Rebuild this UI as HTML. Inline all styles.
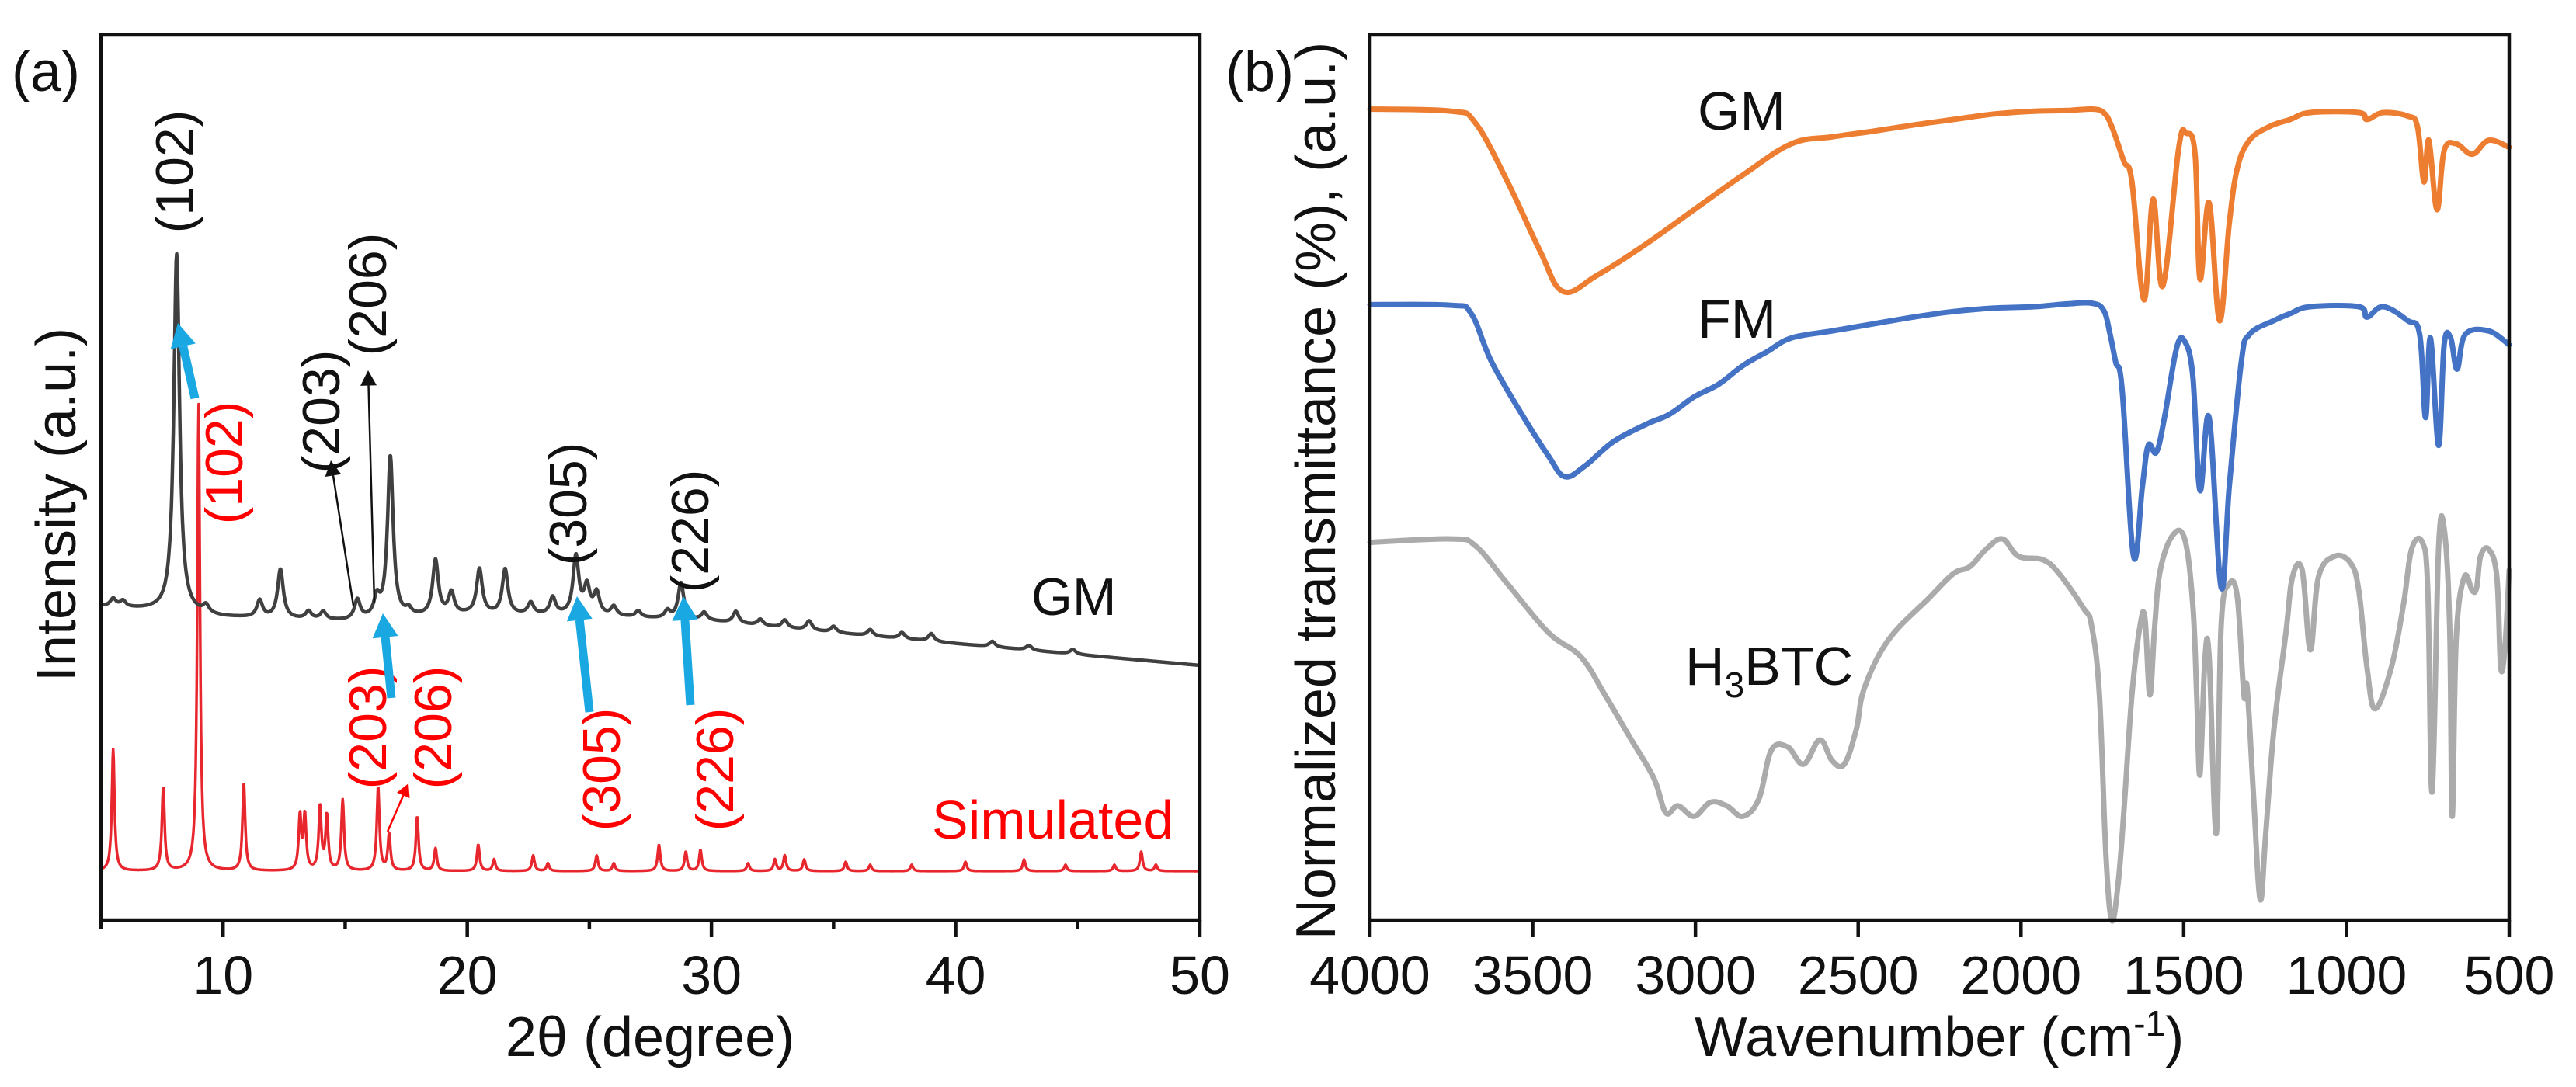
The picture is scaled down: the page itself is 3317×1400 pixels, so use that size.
<!DOCTYPE html>
<html><head><meta charset="utf-8"><style>
html,body{margin:0;padding:0;background:#fff;}
svg{display:block;font-family:"Liberation Sans",Arial,sans-serif;}
</style></head><body>
<svg id="fig" width="3317" height="1400" viewBox="0 0 3317 1400" xmlns="http://www.w3.org/2000/svg">
<g id="pa"></g>
<g id="pb"></g>
</svg>
<script>
// ---------- Panel (a) XRD data ----------
const xrdTicks = [10, 20, 30, 40, 50];
const xrdMinorTicks = [5, 15, 25, 35, 45];
const gmBaseX = [5, 7, 10, 15, 20, 25, 30, 35, 40, 45, 50];
const gmBaseV = [619, 614, 605, 600, 608, 607, 600, 585, 571, 557, 543];
const gmPeakPos = [5.5, 5.9, 8.1, 9.3, 11.5, 12.35, 13.5, 14.1, 15.5, 16.3, 16.85, 17.6, 18.7, 19.35, 20.5, 21.55, 22.6, 23.5, 24.45, 24.9, 25.3, 26.0, 27.0, 28.2, 28.75, 29.7, 31.0, 32.0, 33.0, 34.0, 35.0, 36.5, 37.8, 39.0, 41.5, 43.0, 44.8];
const gmPeakH = [10, 8, 462, 10, 22, 63, 10, 10, 25, 24, 208, 8, 71, 28, 58, 58, 15, 22, 75, 35, 28, 12, 8, 10, 47, 10, 15, 8, 10, 12, 8, 8, 8, 10, 7, 6, 6];
const simBase = 278;
const simPeakPos = [5.5, 7.55, 9.0, 10.85, 13.15, 13.35, 13.97, 14.25, 14.9, 16.35, 16.8, 17.95, 18.7, 20.45, 21.1, 22.7, 23.3, 25.3, 26.0, 27.85, 28.95, 29.55, 31.5, 32.6, 33.0, 33.8, 35.5, 36.5, 38.2, 40.4, 42.8, 44.5, 46.5, 47.6, 48.2];
const simPeakH = [157, 108, 601, 113, 70, 70, 82, 70, 91, 108, 47, 70, 29, 34, 15, 20, 10, 20, 10, 34, 25, 27, 10, 15, 20, 15, 12, 8, 8, 12, 15, 8, 8, 25, 8];

// ---------- Panel (b) FTIR data ----------
const irTicks = [4000, 3500, 3000, 2500, 2000, 1500, 1000, 500];
const gmIrW = [4000,3751,3676,3577,3477,3407,3303,3153,3004,2854,2705,2580,2456,2331,2207,2082,1958,1858,1783,1746,1721,1684,1659,1622,1594,1564,1515,1492,1465,1450,1422,1390,1360,1335,1298,1236,1173,1111,962,937,887,812,782,762,747,722,700,663,613,563,500];
const gmIrV = [1245,1242,1225,1140,1040,982,1005,1050,1100,1150,1195,1205,1213,1222,1230,1238,1242,1243,1245,1240,1220,1170,1140,970,1115,990,1190,1210,1180,1000,1110,940,1080,1160,1200,1220,1230,1240,1240,1230,1240,1235,1220,1140,1200,1100,1185,1195,1180,1200,1190];
const fmIrW = [4000,3751,3689,3626,3527,3452,3402,3340,3253,3153,3079,3004,2929,2854,2780,2705,2580,2456,2331,2207,2082,1958,1858,1783,1746,1726,1709,1689,1654,1627,1609,1584,1559,1522,1497,1472,1450,1422,1385,1360,1323,1298,1223,1173,1111,962,937,887,812,775,757,742,717,700,680,660,635,563,500];
const fmIrV = [963,962,950,880,800,745,715,730,765,790,805,830,848,875,895,915,925,935,945,953,958,960,964,965,955,920,880,840,600,700,760,750,800,900,910,860,695,800,555,700,880,920,940,950,960,960,945,960,940,920,800,915,760,905,915,870,920,925,905];
const btcIrW = [4000,3751,3676,3577,3452,3352,3278,3203,3128,3091,3054,3004,2954,2904,2854,2805,2767,2717,2668,2618,2580,2543,2506,2481,2406,2282,2207,2157,2107,2057,2008,1933,1883,1808,1783,1759,1739,1721,1701,1684,1659,1634,1619,1604,1589,1572,1534,1497,1472,1460,1450,1435,1422,1400,1385,1360,1335,1315,1305,1285,1265,1248,1223,1186,1166,1136,1111,1086,1036,987,962,937,912,862,825,800,767,750,737,717,700,683,675,663,638,613,600,588,563,538,526,513,500];
const btcIrV = [620,625,615,560,490,455,400,340,280,230,240,225,245,240,225,250,320,325,300,335,305,300,350,410,480,540,575,585,610,625,600,595,575,525,500,400,170,75,130,230,400,500,510,400,500,580,630,625,530,400,285,450,455,200,500,560,540,400,410,250,105,200,350,490,570,580,465,570,600,590,550,440,380,440,530,610,620,550,260,610,640,500,225,480,570,550,555,600,610,570,440,470,580];

const NS = 'http://www.w3.org/2000/svg';
function mk(parent, tag, attrs, text) {
  const el = document.createElementNS(NS, tag);
  for (const k in attrs) el.setAttribute(k, attrs[k]);
  if (text !== undefined) el.textContent = text;
  parent.appendChild(el);
  return el;
}
const FONT = 70;

// ===== Panel A =====
const pa = document.getElementById('pa');
const A = {l:130, r:1545, t:45, b:1185};
const xA = d => A.l + (d - 5) / 45 * (A.r - A.l);
const yA = v => 1400 - v;
function lerp(xs, ys, x) {
  for (let i = 0; i < xs.length - 1; i++) {
    if (x >= xs[i] && x <= xs[i+1]) return ys[i] + (ys[i+1]-ys[i])*(x-xs[i])/(xs[i+1]-xs[i]);
  }
  return x < xs[0] ? ys[0] : ys[ys.length-1];
}
function profile(pos, hs, g, x) {
  let s = 0;
  for (let i = 0; i < pos.length; i++) { const d = (x - pos[i]) / g; s += hs[i] / (1 + d*d); }
  return s;
}
let gmD = '', simD = '';
for (let i = 0; i <= 2250; i++) {
  const d = 5 + i * 0.02;
  const vg = lerp(gmBaseX, gmBaseV, d) + profile(gmPeakPos, gmPeakH, 0.14, d);
  const vs = simBase + profile(simPeakPos, simPeakH, 0.065, d);
  gmD += (i ? 'L' : 'M') + xA(d).toFixed(1) + ' ' + yA(vg).toFixed(1);
  simD += (i ? 'L' : 'M') + xA(d).toFixed(1) + ' ' + yA(vs).toFixed(1);
}
let el;
el = mk(pa, 'path', {d: simD, fill: 'none', stroke: '#e8262d', 'stroke-width': 3.5, 'stroke-linejoin': 'round'});


el = mk(pa, 'path', {d: gmD, fill: 'none', stroke: '#404040', 'stroke-width': 4.5, 'stroke-linejoin': 'round'});



el = mk(pa, 'rect', {x: A.l, y: A.t, width: A.r - A.l, height: A.b - A.t, fill: 'none', stroke: '#111', 'stroke-width': 4.5});


xrdTicks.forEach(t => {
  const tk = mk(pa, 'line', {x1: xA(t), x2: xA(t), y1: A.b, y2: A.b + 22, stroke: '#111', 'stroke-width': 4.5});
  
  
  const lb = mk(pa, 'text', {x: xA(t), y: 1280, 'font-size': FONT, 'text-anchor': 'middle', fill: '#111'}, String(t));
  
  
});
xrdMinorTicks.forEach(t => {
  const tk = mk(pa, 'line', {x1: xA(t), x2: xA(t), y1: A.b, y2: A.b + 11, stroke: '#111', 'stroke-width': 4.5});
  
  
});
el = mk(pa, 'text', {x: 837, y: 1360, 'font-size': 72, 'text-anchor': 'middle', fill: '#111'}, '2θ (degree)');


el = mk(pa, 'text', {x: 0, y: 0, 'font-size': 72, 'text-anchor': 'middle', fill: '#111', transform: 'translate(97,650) rotate(-90)'}, 'Intensity (a.u.)');


el = mk(pa, 'text', {x: 15, y: 117, 'font-size': 72, fill: '#111'}, '(a)');


el = mk(pa, 'text', {x: 1328, y: 792, 'font-size': 68, fill: '#111'}, 'GM');


el = mk(pa, 'text', {x: 1200, y: 1080, 'font-size': 70, fill: '#ff0000'}, 'Simulated');



function vlabel(x, y, txt, color, name) {
  const t = mk(pa, 'text', {x: 0, y: 0, 'font-size': 68, 'text-anchor': 'middle', 'dominant-baseline': 'central', fill: color, transform: `translate(${x},${y}) rotate(-90)`}, txt);
  
  
}
vlabel(225, 221, '(102)', '#111', 'gm-peak-label-102');
vlabel(414, 530, '(203)', '#111', 'gm-peak-label-203');
vlabel(474, 379, '(206)', '#111', 'gm-peak-label-206');
vlabel(732, 649, '(305)', '#111', 'gm-peak-label-305');
vlabel(889, 684, '(226)', '#111', 'gm-peak-label-226');
vlabel(289, 596, '(102)', '#ff0000', 'sim-peak-label-102');
vlabel(474, 937, '(203)', '#ff0000', 'sim-peak-label-203');
vlabel(558, 937, '(206)', '#ff0000', 'sim-peak-label-206');
vlabel(775, 991, '(305)', '#ff0000', 'sim-peak-label-305');
vlabel(921, 991, '(226)', '#ff0000', 'sim-peak-label-226');

function arrow(x1, y1, x2, y2, color, w, head, name) {
  const g = mk(pa, 'g', {});
  
  
  const dx = x2 - x1, dy = y2 - y1, L = Math.hypot(dx, dy), ux = dx / L, uy = dy / L;
  const bx = x2 - ux * head * 1.4, by = y2 - uy * head * 1.4;
  mk(g, 'line', {x1, y1, x2: bx, y2: by, stroke: color, 'stroke-width': w});
  mk(g, 'polygon', {points: `${x2},${y2} ${bx - uy*head*0.75},${by + ux*head*0.75} ${bx + uy*head*0.75},${by - ux*head*0.75}`, fill: color});
}
const BLUE = '#1aa8e2';
arrow(251, 513, 229, 416, BLUE, 11, 22, 'shift-arrow-102');
arrow(504, 899, 493, 790, BLUE, 11, 22, 'shift-arrow-206');
arrow(759, 917, 743, 768, BLUE, 11, 22, 'shift-arrow-305');
arrow(889, 908, 880, 768, BLUE, 11, 22, 'shift-arrow-226');
arrow(455, 780, 426, 593, '#111', 2.5, 14, 'pointer-arrow-203');
arrow(482, 776, 474, 477, '#111', 2.5, 14, 'pointer-arrow-206');
arrow(499, 1071, 526, 1009, '#ff0000', 2.5, 12, 'sim-pointer-arrow');

// ===== Panel B =====
const pb = document.getElementById('pb');
const B = {l:1764, r:3231, t:45, b:1185};
const xB = w => B.l + (4000 - w) / 3500 * (B.r - B.l);
const yB = v => 45 + (1400 - v - 48) / 1.12;
function series(ws, vs, color, name) {
  const P = ws.map((w, i) => [xB(w), yB(vs[i])]);
  let d = 'M' + P[0][0].toFixed(1) + ' ' + P[0][1].toFixed(1);
  const k = 0.18;
  for (let i = 0; i < P.length - 1; i++) {
    const p0 = P[Math.max(0, i-1)], p1 = P[i], p2 = P[i+1], p3 = P[Math.min(P.length-1, i+2)];
    const c1 = [p1[0] + (p2[0]-p0[0])*k, p1[1] + (p2[1]-p0[1])*k];
    const c2 = [p2[0] - (p3[0]-p1[0])*k, p2[1] - (p3[1]-p1[1])*k];
    d += 'C' + c1[0].toFixed(1) + ' ' + c1[1].toFixed(1) + ' ' + c2[0].toFixed(1) + ' ' + c2[1].toFixed(1) + ' ' + p2[0].toFixed(1) + ' ' + p2[1].toFixed(1);
  }
  const p = mk(pb, 'path', {d, fill: 'none', stroke: color, 'stroke-width': 7, 'stroke-linejoin': 'round', 'stroke-linecap': 'round'});
  
  
}
series(btcIrW, btcIrV, '#ababab', 'h3btc-spectrum');
series(fmIrW, fmIrV, '#4472c4', 'fm-spectrum');
series(gmIrW, gmIrV, '#ed7d31', 'gm-spectrum');

el = mk(pb, 'rect', {x: B.l, y: B.t, width: B.r - B.l, height: B.b - B.t, fill: 'none', stroke: '#111', 'stroke-width': 4.5});


irTicks.forEach(t => {
  const tk = mk(pb, 'line', {x1: xB(t), x2: xB(t), y1: B.b, y2: B.b + 22, stroke: '#111', 'stroke-width': 4.5});
  
  
  const lb = mk(pb, 'text', {x: xB(t), y: 1280, 'font-size': FONT, 'text-anchor': 'middle', fill: '#111'}, String(t));
  
  
});
el = mk(pb, 'text', {x: 2497, y: 1360, 'font-size': 72, 'text-anchor': 'middle', fill: '#111'});


mk(el, 'tspan', {}, 'Wavenumber (cm');
mk(el, 'tspan', {'font-size': 46, dy: -26}, '-1');
mk(el, 'tspan', {dy: 26}, ')');
el = mk(pb, 'text', {x: 0, y: 0, 'font-size': 72, 'text-anchor': 'middle', fill: '#111', transform: 'translate(1719,632) rotate(-90)'}, 'Normalized transmittance (%), (a.u.)');


el = mk(pb, 'text', {x: 1578, y: 117, 'font-size': 72, fill: '#111'}, '(b)');


el = mk(pb, 'text', {x: 2186, y: 167, 'font-size': 70, fill: '#111'}, 'GM');


el = mk(pb, 'text', {x: 2186, y: 435, 'font-size': 70, fill: '#111'}, 'FM');


el = mk(pb, 'text', {x: 2170, y: 882, 'font-size': 70, fill: '#111'});


mk(el, 'tspan', {}, 'H');
mk(el, 'tspan', {'font-size': 46, dy: 16}, '3');
mk(el, 'tspan', {dy: -16}, 'BTC');
</script>
</body></html>
